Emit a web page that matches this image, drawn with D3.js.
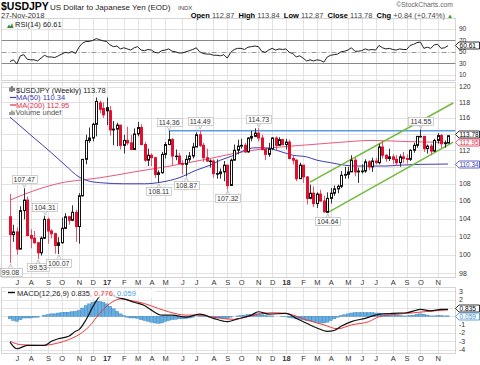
<!DOCTYPE html>
<html>
<head>
<meta charset="utf-8">
<script src="https://cdn.jsdelivr.net/npm/d3@7"></script>
<style>
  body { margin: 0; background: #fff; }
  svg { display: block; }
  text { font-family: 'Liberation Sans', Arial, sans-serif; }
</style>
</head>
<body>
<svg id="chart" width="480" height="365"></svg>
<script>
// Weekly USD/JPY, week of 20-Jun-2016 .. 26-Nov-2018 (128 weeks)
var opens = [104.2,102.2,102.5,100.6,104.9,106.1,102.1,101.8,101.3,100.2,
  101.8,103.9,102.6,102.3,101.0,101.3,102.9,104.2,103.8,104.7,
  103.1,106.6,110.9,113.2,113.5,115.2,117.9,117.2,117.3,116.9,
  114.5,114.6,115.1,112.6,113.2,112.9,112.1,114.0,114.8,112.7,
  110.8,111.4,111.1,109.1,109.3,111.5,112.7,113.3,111.3,111.3,
  110.4,110.3,110.9,111.3,112.4,113.9,112.6,111.1,110.7,110.7,
  109.2,109.2,109.4,110.2,107.8,110.8,112.0,112.5,112.6,111.8,
  113.5,113.7,114.1,113.5,112.1,111.5,112.2,113.5,112.6,113.3,
  112.7,113.0,111.0,110.8,108.6,110.2,108.8,106.3,106.9,105.7,
  106.8,106.0,104.7,106.3,106.9,107.4,107.7,109.0,109.1,109.4,
  110.8,109.4,109.5,109.5,110.6,110.0,110.7,110.5,112.4,111.4,
  111.0,111.2,110.9,110.5,111.2,111.0,110.9,112.0,112.6,113.7,
  113.7,112.2,112.5,111.9,113.2,113.8,112.8,112.87];
var highs = [106.8,103.3,103.0,105.4,107.47,106.5,102.8,102.6,101.4,102.0,
  104.31,104.1,102.8,102.4,101.9,104.1,104.6,104.3,105.5,105.0,
  106.9,110.9,113.9,114.8,115.4,118.6,118.2,118.0,118.6,117.5,
  115.6,115.4,115.1,113.9,114.9,113.9,114.7,115.5,115.2,113.0,
  112.2,111.6,111.2,109.6,111.8,113.0,114.36,113.5,112.1,111.7,
  110.8,111.4,111.8,112.9,114.2,114.49,112.9,112.2,110.9,110.9,
  110.9,109.8,110.7,110.2,111.0,112.7,113.3,113.4,112.9,113.6,
  114.4,114.7,114.73,113.9,112.2,112.9,113.6,113.7,113.6,113.4,
  113.4,113.3,111.4,110.9,110.5,110.2,108.9,107.9,107.7,107.0,
  107.3,106.6,107.0,107.5,107.8,107.9,109.5,110.0,110.0,111.4,
  111.1,109.9,110.3,110.9,110.8,111.1,111.1,112.8,113.2,111.5,
  112.2,111.5,111.4,111.5,111.8,111.5,112.1,112.9,113.7,114.55,
  113.7,112.7,112.8,113.4,114.1,114.0,113.2,113.84];
var lows = [99.08,101.4,99.99,100.6,103.9,102.0,100.7,101.2,99.53,99.9,
  101.7,101.2,101.8,100.1,100.07,101.2,102.8,103.3,103.7,101.4,
  101.2,106.5,110.3,112.9,113.1,113.7,116.6,116.0,115.1,113.8,
  112.6,112.5,112.1,111.6,112.6,112.0,112.1,113.7,112.6,110.6,
  110.1,110.1,108.7,108.11,109.2,111.0,112.6,110.2,110.8,110.4,
  109.1,108.87,110.6,111.0,112.4,112.4,110.6,110.6,109.9,108.7,
  108.6,108.6,108.3,107.32,107.8,110.8,111.5,112.2,111.7,111.7,
  113.1,113.6,113.1,112.0,110.8,111.2,112.0,112.0,112.6,112.6,
  112.1,110.9,110.3,108.3,108.6,108.1,105.6,106.2,105.3,105.2,
  105.9,104.7,104.64,105.7,106.6,106.9,107.5,108.6,108.6,109.4,
  108.9,108.1,109.2,109.3,109.6,109.4,110.3,110.3,111.0,110.6,
  110.7,110.3,110.1,110.0,110.5,110.4,110.7,111.7,112.3,113.6,
  111.8,111.6,111.4,111.8,112.8,112.3,112.3,112.87];
var closes = [102.2,102.5,100.6,104.9,106.1,102.1,101.8,101.3,100.2,101.8,
  103.9,102.6,102.3,101.0,101.3,102.9,104.2,103.8,104.7,103.1,
  106.6,110.9,113.2,113.5,115.2,118.1,117.1,116.4,116.9,114.5,
  114.6,115.1,112.6,113.2,112.9,112.1,114.0,114.8,112.7,110.8,
  111.4,111.1,109.1,109.3,111.5,112.7,113.3,111.3,111.3,110.4,
  110.3,110.9,111.3,112.4,113.9,112.6,111.1,110.7,110.7,109.2,
  109.2,109.4,110.2,107.8,110.8,112.0,112.5,112.6,111.8,113.5,
  113.7,114.1,113.5,112.1,111.5,112.2,113.5,112.6,113.3,112.7,
  113.0,111.0,110.8,108.6,110.2,108.8,106.3,106.9,105.7,106.8,
  106.0,104.75,106.3,106.9,107.4,107.7,109.0,109.1,109.4,110.8,
  109.4,109.5,109.5,110.6,110.0,110.7,110.5,112.4,111.4,111.0,
  111.2,110.9,110.5,111.2,111.0,110.9,112.0,112.6,113.7,113.7,
  112.2,112.5,111.9,113.2,113.8,112.8,112.9,113.78];

// RSI(14), one value per week
var rsi = [33,36,29,43,45,37,36,36,34,39,
  44,41,41,40,43,46,49,48,50.5,47,
  58,65,68,68,70,73,71,69,68,62,
  59,60,55,57,55,53,57,59,53,52,
  54,53,49,48,52,53,55,51,50,48,
  48,50,52,54,57,50,47,46,46,44,
  44,43,45,39,49,54,56,56,54,58,
  59,60,59,51,49,53,56,53,55,54,
  55,49,47,41,43,39,34,36,34,36,
  35,32,41,44,45,46,50,51,53,57,
  51,51,52,55,53,54,53,61,57,55,
  56,54,53,55,54,54,61,63,66,67,
  56,58,56,62,63,56,57,60.61];

// MACD histogram, one value per week
var macdHist = [-0.3,-0.5,-0.6,-0.4,-0.2,-0.2,-0.2,-0.1,-0.1,0.0,
  0.15,0.2,0.3,0.3,0.4,0.45,0.5,0.5,0.55,0.6,
  0.7,1.0,1.3,1.5,1.7,1.8,1.8,1.7,1.5,1.2,
  0.9,0.6,0.3,0.1,-0.1,-0.2,-0.2,-0.25,-0.4,-0.5,
  -0.6,-0.7,-0.8,-0.85,-0.8,-0.6,-0.5,-0.4,-0.35,-0.3,
  -0.3,-0.25,-0.2,-0.1,0.0,0.1,0.05,-0.05,-0.1,-0.15,
  -0.2,-0.2,-0.2,-0.25,-0.1,0.0,0.05,0.1,0.15,0.2,
  0.25,0.3,0.3,0.2,0.1,0.05,0.05,0.0,0.0,-0.05,
  -0.05,-0.15,-0.2,-0.3,-0.35,-0.4,-0.5,-0.55,-0.65,-0.7,
  -0.8,-0.8,-0.7,-0.5,-0.3,-0.1,0.1,0.2,0.3,0.4,
  0.45,0.45,0.45,0.45,0.45,0.45,0.4,0.4,0.35,0.3,
  0.25,0.2,0.15,0.1,0.05,0.05,0.1,0.15,0.25,0.3,
  0.25,0.15,0.05,0.05,0.1,0.1,0.05,0.059];

// smooth lines: [week index, value]
var ma50 = [[0,116.1],[7,113.5],[12,111.7],[16,110.2],[20,108.8],[23,108.3],[27,108.1],
  [33,108.0],[39,108.0],[44,108.2],[49,108.7],[54,109.6],[58,110.2],[61,110.8],[65,111.4],
  [68,112.0],[71,112.3],[74,112.3],[78,111.9],[82,111.4],[86,111.2],[89,110.8],[93,110.5],
  [97,110.2],[101,110.1],[105,110.1],[109,110.1],[113,110.2],[119,110.3],[127,110.34]];
var ma200 = [[0,106.1],[7,107.2],[16,108.2],[22,108.5],[26,108.7],[36,109.4],[45,110.0],
  [58,111.0],[66,111.7],[76,112.3],[86,112.65],[95,112.95],[105,113.2],[116,113.05],[127,112.95]];
var macdLine = [[0,-3.1],[2,-3.9],[5,-3.5],[8,-3.5],[10,-3.5],[12,-3.0],[14,-2.7],[17,-2.4],
  [19,-1.8],[20,-1.6],[22,-0.44],[24,1.14],[26,2.4],[28,2.8],[30,2.5],[31,2.3],[33,2.1],
  [36,1.7],[39,1.3],[41,0.75],[44,0.15],[47,0.15],[51,-0.1],[55,0.27],[59,-0.24],[63,-0.64],
  [66,-0.3],[70,0.15],[72,0.55],[75,0.27],[80,0.36],[83,-0.24],[86,-0.83],[89,-1.4],[92,-1.8],
  [94,-1.7],[96,-1.2],[99,-0.64],[103,-0.24],[107,0.24],[111,0.36],[115,0.43],[119,0.83],
  [122,0.66],[125,0.83],[127,0.835]];
var signalLine = [[0,-3.0],[3,-3.4],[9,-3.5],[14,-3.2],[17,-2.8],[20,-2.2],[23,-1.2],[26,0.36],
  [29,1.54],[32,2.1],[35,1.9],[39,1.54],[43,0.95],[46,0.55],[51,0.15],[55,0.15],[59,-0.1],
  [65,-0.36],[67,-0.24],[72,0.27],[76,0.43],[80,0.36],[86,-0.44],[91,-1.03],[95,-1.5],
  [99,-1.03],[104,-0.64],[107,-0.05],[112,0.24],[117,0.43],[123,0.66],[127,0.776]];

// annotations
var peaks = [[0,"low"],[4,"high"],[8,"low"],[10,"high"],[14,"low"],[43,"low"],[46,"high"],
  [51,"low"],[55,"high"],[63,"low"],[72,"high"],[92,"low"],[119,"high"]];
var resistance = [[46,114.4],[130,114.4]];
var channelLow = [[92,104.64],[128.5,113.0]];
var channelHigh = [[87,108.2],[128.5,117.9]];

var priceTicks = [98,100,102,104,106,108,112,116,118,120];
var priceGrid = d3.range(98,121,2);
var rsiTicks = [10,30,50,70,90];
var macdTicks = [3,2,-1,-2,-3,-4];

var svg = d3.select("#chart");
var dates = d3.timeMonday.range(new Date(2016,5,20), new Date(2018,10,27));
var n = closes.length;
var x = d3.scaleLinear().domain([0, n - 1]).range([10, 448]);
var L = 1.5, R = 455.5;
var months = "JFMAMJJASOND";

// first week of every month
var monthTicks = [];
dates.forEach(function (d, i) {
  if (i > 0 && d.getMonth() !== dates[i - 1].getMonth()) monthTicks.push(i);
});
function px(i) { return Math.round(x(i)) + 0.5; }

function panelGrid(top, bottom) {
  var g = svg.append("g");
  g.selectAll("line").data(monthTicks).enter().append("line")
    .attr("x1", px).attr("x2", px).attr("y1", top).attr("y2", bottom)
    .attr("stroke", "#e2e2e2");
  return g;
}
function hGrid(vals, scale) {
  svg.append("g").selectAll("line").data(vals).enter().append("line")
    .attr("x1", L).attr("x2", R)
    .attr("y1", function (v) { return Math.round(scale(v)) + 0.5; })
    .attr("y2", function (v) { return Math.round(scale(v)) + 0.5; })
    .attr("stroke", "#e2e2e2");
}
function border(top, bottom) {
  svg.append("rect").attr("x", L).attr("y", top).attr("width", R - L).attr("height", bottom - top)
    .attr("fill", "none").attr("stroke", "#aaa").attr("stroke-dasharray", "1,1");
}
function rightLabels(vals, scale, size) {
  svg.append("g").selectAll("text").data(vals).enter().append("text")
    .attr("x", 459).attr("y", function (v) { return scale(v) + 2.4; })
    .attr("font-size", size || 7).attr("fill", "#333").text(function (v) { return v; });
}
function valueBox(y, label, color) {
  var h = 3.5;
  svg.append("path")
    .attr("d", "M455.5," + y + " L459," + (y - h) + " L479.5," + (y - h) + " L479.5," + (y + h) + " L459," + (y + h) + " Z")
    .attr("fill", "#fff").attr("stroke", color).attr("stroke-width", 0.8);
  var t = svg.append("text").attr("x", 459.5).attr("y", y + 2.3).attr("font-size", 6.6)
    .attr("fill", color).text(label);
  if (t.node().getComputedTextLength() > 19) t.attr("textLength", 19).attr("lengthAdjust", "spacingAndGlyphs");
}
function monthLabels(y) {
  svg.append("g").selectAll("text").data(monthTicks).enter().append("text")
    .attr("x", function (i) { return x(i) + 0.5; }).attr("y", y)
    .attr("text-anchor", "middle").attr("font-size", 7.5).attr("fill", "#333")
    .attr("font-weight", function (i) { return dates[i].getMonth() === 0 ? "bold" : "normal"; })
    .text(function (i) {
      var d = dates[i];
      return d.getMonth() === 0 ? String(d.getFullYear()).slice(2) : months[d.getMonth()];
    });
}

// ---------- header ----------
svg.append("text").attr("x", 1).attr("y", 9.5).attr("font-size", 10.5).attr("font-weight", "bold").text("$USDJPY");
svg.append("text").attr("x", 50).attr("y", 9.5).attr("font-size", 8).attr("fill", "#222").text("US Dollar to Japanese Yen (EOD)");
svg.append("text").attr("x", 178).attr("y", 9.5).attr("font-size", 6).attr("fill", "#444").text("INDX");
svg.append("text").attr("x", 453).attr("y", 7).attr("text-anchor", "end").attr("font-size", 6.8).attr("fill", "#666").text("\u00a9StockCharts.com");
svg.append("text").attr("x", 1).attr("y", 17.5).attr("font-size", 7.5).attr("fill", "#333").text("27-Nov-2018");
var ohlc = svg.append("text").attr("x", 453).attr("y", 17.5).attr("text-anchor", "end").attr("font-size", 7.5).attr("fill", "#444");
[["Open ", true], ["112.87  ", false], ["High ", true], ["113.84  ", false], ["Low ", true], ["112.87  ", false],
 ["Close ", true], ["113.78  ", false], ["Chg ", true], ["+0.84 (+0.74%) ", false]].forEach(function (p) {
  ohlc.append("tspan").attr("font-weight", p[1] ? "bold" : "normal").attr("fill", p[1] ? "#000" : "#444")
    .attr("xml:space", "preserve").text(p[0]);
});
ohlc.append("tspan").attr("fill", "#2a9a2a").attr("font-size", 6).text("\u25b2");

// ---------- RSI panel ----------
var rTop = 18.5, rBot = 80.5;
var yR = d3.scaleLinear().domain([0, 108]).range([rBot, rTop]);
panelGrid(rTop, rBot);
hGrid([10, 90], yR);
[30, 70].forEach(function (v) {
  svg.append("line").attr("x1", L).attr("x2", R).attr("y1", Math.round(yR(v)) + 0.5).attr("y2", Math.round(yR(v)) + 0.5)
    .attr("stroke", "#888");
});
svg.append("line").attr("x1", L).attr("x2", R).attr("y1", Math.round(yR(50)) + 0.5).attr("y2", Math.round(yR(50)) + 0.5)
  .attr("stroke", "#999").attr("stroke-dasharray", "5,2,1,2");
svg.append("path").datum(rsi)
  .attr("d", d3.line().x(function (d, i) { return x(i); }).y(function (d) { return yR(d); }))
  .attr("fill", "none").attr("stroke", "#222").attr("stroke-width", 1);
border(rTop, rBot);
rightLabels(rsiTicks, yR, 6.5);
valueBox(45.5, "60.61", "#000");
svg.append("path").attr("d", "M7,28 L9,24.5 L10.5,26.5 L12,23 L13.5,28 Z").attr("fill", "#3a8a3a");
svg.append("text").attr("x", 15).attr("y", 27).attr("font-size", 7.5).attr("font-family", "'DejaVu Sans Mono', monospace")
  .attr("fill", "#222").text("RSI(14) 60.61");

// ---------- price panel ----------
var pTop = 82.5, pBot = 277.5;
var yP = d3.scaleLog().domain([97.55, 120.55]).range([pBot, pTop]);
panelGrid(pTop, pBot);
hGrid(priceGrid, yP);

svg.append("clipPath").attr("id", "pclip").append("rect")
  .attr("x", L).attr("y", pTop).attr("width", R - L).attr("height", pBot - pTop);
var plot = svg.append("g").attr("clip-path", "url(#pclip)");

var maLine = d3.line().x(function (d) { return x(d[0]); }).y(function (d) { return yP(d[1]); }).curve(d3.curveMonotoneX);
plot.append("path").datum(ma200).attr("d", maLine).attr("fill", "none").attr("stroke", "#e8587a").attr("stroke-width", 1);
plot.append("path").datum(ma50).attr("d", maLine).attr("fill", "none").attr("stroke", "#3c3cb4").attr("stroke-width", 1);

var straight = d3.line().x(function (d) { return x(d[0]); }).y(function (d) { return yP(d[1]); });
plot.append("path").datum(resistance).attr("d", straight).attr("stroke", "#5a9ee0").attr("stroke-width", 1.5).attr("fill", "none");
plot.append("path").datum(channelLow).attr("d", straight).attr("stroke", "#72bb3a").attr("stroke-width", 1.5).attr("fill", "none");
plot.append("path").datum(channelHigh).attr("d", straight).attr("stroke", "#72bb3a").attr("stroke-width", 1.5).attr("fill", "none");

// candles: black when close >= previous close, red otherwise; hollow when close > open
var candle = plot.selectAll("g.candle").data(d3.range(n)).enter().append("g");
function colour(i) {
  var prev = i === 0 ? opens[0] : closes[i - 1];
  return closes[i] >= prev ? "#111" : "#e0102e";
}
candle.append("line")
  .attr("x1", px).attr("x2", px)
  .attr("y1", function (i) { return yP(highs[i]); }).attr("y2", function (i) { return yP(lows[i]); })
  .attr("stroke", function (i) { return colour(i) === "#111" ? "#333" : "#ef4f6a"; });
candle.append("rect")
  .attr("x", function (i) { return px(i) - 1; }).attr("width", 2)
  .attr("y", function (i) { return yP(Math.max(opens[i], closes[i])); })
  .attr("height", function (i) { return Math.max(0.6, yP(Math.min(opens[i], closes[i])) - yP(Math.max(opens[i], closes[i]))); })
  .attr("fill", function (i) { return closes[i] > opens[i] ? "#fff" : colour(i); })
  .attr("stroke", colour).attr("stroke-width", 1);

// high / low labels
peaks.forEach(function (p) {
  var i = p[0], isHigh = p[1] === "high";
  var v = isHigh ? highs[i] : lows[i];
  var cx = x(i) + 0.5, yv = yP(v);
  var g = svg.append("g");
  var t = g.append("text").attr("x", cx).attr("text-anchor", "middle").attr("font-size", 7).attr("fill", "#333")
    .text(v.toFixed(2));
  var w = t.node().getComputedTextLength() + 4;
  var by = isHigh ? yv - 13 : yv + 4.5;
  g.insert("rect", "text").attr("x", Math.round(cx - w / 2) + 0.5).attr("y", Math.round(by) + 0.5)
    .attr("width", Math.round(w)).attr("height", 8).attr("fill", "#fff").attr("stroke", "#bbb").attr("stroke-width", 0.7);
  t.attr("y", Math.round(by) + 7);
  var ty = isHigh ? by + 8.5 : by + 0.5;
  g.append("path").attr("d", "M" + (cx - 2) + "," + ty + " L" + cx + "," + (isHigh ? yv - 1 : yv + 1) + " L" + (cx + 2) + "," + ty)
    .attr("fill", "none").attr("stroke", "#aaa").attr("stroke-width", 0.7);
});

border(pTop, pBot);
rightLabels(priceTicks, yP);
valueBox(134.5, "113.78", "#000");
valueBox(142.5, "112.95", "#e0304e");
valueBox(Math.round(yP(110.34)) + 0.5, "110.34", "#3c3cb4");

// legend
var lg = svg.append("g").attr("font-size", 7.5).attr("font-family", "'DejaVu Sans', sans-serif");
lg.append("path").attr("d", "M10,91.5 L10,87.5 M12,92 L12,86 M14,91 L14,88").attr("stroke", "#333").attr("stroke-width", 1.2);
lg.append("text").attr("x", 16).attr("y", 92.5).attr("fill", "#222").text("$USDJPY (Weekly) 113.78");
lg.append("line").attr("x1", 10).attr("x2", 16).attr("y1", 97.5).attr("y2", 97.5).attr("stroke", "#3c3cb4").attr("stroke-width", 1.2);
lg.append("text").attr("x", 16).attr("y", 100).attr("fill", "#3c3cb4").text("MA(50) 110.34");
lg.append("line").attr("x1", 10).attr("x2", 16).attr("y1", 105).attr("y2", 105).attr("stroke", "#e0304e").attr("stroke-width", 1.2);
lg.append("text").attr("x", 16).attr("y", 107.5).attr("fill", "#e0304e").text("MA(200) 112.95");
lg.append("path").attr("d", "M10,115 L10,112 M12,115 L12,110.5 M14,115 L14,111.5").attr("stroke", "#666").attr("stroke-width", 1.2);
lg.append("text").attr("x", 15.5).attr("y", 115).attr("fill", "#555").text("Volume undef");

monthLabels(285);

// ---------- MACD panel ----------
var mTop = 287.5, mBot = 353.5;
var yM = d3.scaleLinear().domain([-4.47, 3.47]).range([mBot, mTop]);
panelGrid(mTop, mBot);
hGrid(d3.range(-4, 4), yM);
svg.append("g").selectAll("rect").data(macdHist).enter().append("rect")
  .attr("x", function (d, i) { return x(i) - 1.7; }).attr("width", 3.45)
  .attr("y", function (d) { return yM(Math.max(0, d)); })
  .attr("height", function (d) { return Math.abs(yM(d) - yM(0)); })
  .attr("fill", "#69aee0").attr("stroke", "#2f7fbf").attr("stroke-width", 0.4);
var mLine = d3.line().x(function (d) { return x(d[0]); }).y(function (d) { return yM(d[1]); }).curve(d3.curveMonotoneX);
svg.append("path").datum(signalLine).attr("d", mLine).attr("fill", "none").attr("stroke", "#f03a3a").attr("stroke-width", 1);
svg.append("path").datum(macdLine).attr("d", mLine).attr("fill", "none").attr("stroke", "#111").attr("stroke-width", 1.2);
border(mTop, mBot);
rightLabels(macdTicks, yM);
valueBox(308.5, "0.835", "#000");
valueBox(316.5, "0.059", "#3a8ad0");

var ml = svg.append("g").attr("font-size", 7.5).attr("font-family", "'DejaVu Sans', sans-serif");
ml.append("rect").attr("x", 6).attr("y", 289).attr("width", 150).attr("height", 8.5).attr("fill", "#fff").attr("opacity", 0.85);
ml.append("line").attr("x1", 8).attr("x2", 15).attr("y1", 292.5).attr("y2", 292.5).attr("stroke", "#000").attr("stroke-width", 1.4);
var mt = ml.append("text").attr("x", 17).attr("y", 295.5);
mt.append("tspan").attr("fill", "#222").text("MACD(12,26,9) 0.835");
mt.append("tspan").attr("fill", "#f03a3a").text(", 0.776");
mt.append("tspan").attr("fill", "#4aa0e0").text(", 0.059");

monthLabels(361);
</script>
</body>
</html>
